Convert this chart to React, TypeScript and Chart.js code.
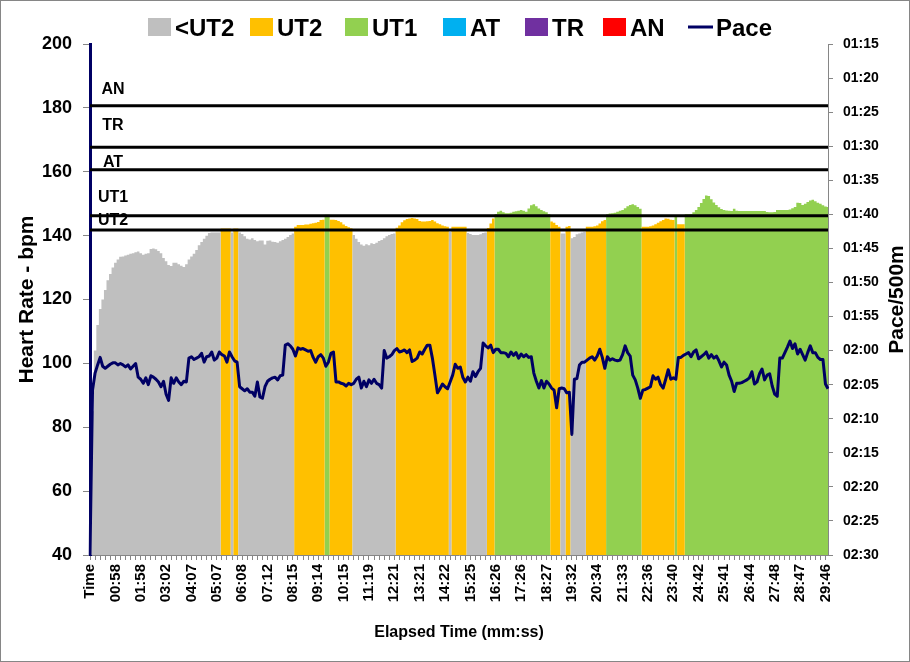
import React, { useEffect, useRef } from 'react';
import { Chart, registerables } from 'chart.js';

Chart.register(...registerables);

// ---------- DATA ----------
const TICK_LABELS = [
  'Time', '00:58', '01:58', '03:02', '04:07', '05:07', '06:08', '07:12', '08:15', '09:14',
  '10:15', '11:19', '12:21', '13:21', '14:22', '15:25', '16:26', '17:26', '18:27', '19:32',
  '20:34', '21:33', '22:36', '23:40', '24:42', '25:41', '26:44', '27:48', '28:47', '29:46',
];
const POINTS_PER_LABEL = 10;

// Heart rate (bpm) per sample
const HR = [
  60, 85, 104, 112, 117, 120, 123, 126, 128, 130, 131.5, 132.5, 133.4,
  133.5, 133.8, 134, 134.3, 134.5, 134.8, 135, 134.5, 134, 134.3, 134.5, 135.8, 136, 135.7, 135.2, 134.5,
  133, 132, 130.8, 130.5, 131.5, 131.5, 131, 130.6, 130.2, 131, 132.5, 133.5, 134.3, 135.5, 137, 138,
  139, 140, 140.8, 141, 141, 141, 141,
  142.2, 142.2, 142.2, 142.2,
  141,
  142.2, 142.2,
  141, 140.5, 139.8, 139, 138.8, 139.2, 138.6, 138.2, 138.5, 138.5, 137.2, 138.4, 138.5, 138.1, 138,
  137.8, 138.2, 138.6, 139, 139.6, 140.2, 140.7,
  142.8, 143.3, 143.3, 143.3, 143.5, 143.5, 143.7, 143.9, 144, 144.3, 144.9, 145,
  146.5, 146.5,
  145, 145, 144.9, 144.6, 144.2, 143.5, 143, 142.6, 142.3,
  140.2, 139, 138, 137.2, 136.8, 137.3, 137, 137.6, 137.4, 137.8, 138.3, 138.6, 139.2, 139.8, 140.2,
  140.5, 140.7,
  142.5, 143.2, 144.2, 144.8, 145.2, 145.4, 145.5, 145.4, 145.2, 144.6, 144.4, 144.4, 144.5, 144.6,
  144.9, 144.4, 143.9, 143.6, 143.2, 142.9, 142.8,
  141.2,
  142.8, 142.8, 142.8, 142.8, 142.8, 142.8,
  140.8, 140.5, 140.2, 140.2, 140.2, 140.4, 140.8, 141,
  142.4, 143.8, 145.4,
  146.8, 147.5, 147.8, 147.3, 147, 147, 147.2, 147.5, 147.6, 147.8, 148, 147.8, 147.5, 148.5, 149.5,
  149.8, 149.2, 148.5, 148, 147.6, 147.3, 146.8,
  144.4, 144, 143.3, 142.8,
  140.7, 140.7,
  142.8, 143,
  139.2, 139.6, 140.4, 140.7, 141, 141.2,
  142.8, 142.8, 142.8, 142.9, 143.2, 143.8, 144.5, 144.9,
  146.7, 146.9, 147, 147.2, 147.5, 147.8, 148, 148.6, 149.2, 149.6, 149.8, 149.5, 149, 148.4,
  142.8, 142.8, 142.8, 142.9, 143.2, 143.6, 144, 144.5, 144.9, 145.4, 145.3, 145, 144.9,
  146.4,
  143.6, 143.6, 143.6,
  146.7, 146.7, 146.8, 147.3, 148, 149, 150.2, 151.5, 152.6, 152.4, 151.4, 150.4, 149.6, 148.9, 148.3,
  148, 147.9, 147.8, 147.7, 148.4, 147.8,
  147.7, 147.7, 147.7, 147.7, 147.7, 147.7, 147.7, 147.7, 147.7, 147.7, 147.7,
  147.4, 147.3, 147.3, 147.4, 148, 148, 148, 148, 148, 148.2, 148.6, 149, 150.3, 150.2, 149.6, 150,
  150.5, 151, 151.2, 150.8, 150.3, 150, 149.5, 149.1, 149,
];

// Pace (seconds per 500m) per sample
const PACE = [
  150, 125.8, 123.3, 122.1, 121.0, 122.3, 122.6, 122.3, 122.0, 121.8,
  121.8, 122.1, 121.9, 122.1, 122.4, 122.1, 122.7, 122.3, 121.9, 123.9,
  124.2, 124.8, 124.0, 125.0, 123.7, 123.9, 124.2, 124.6, 125.3, 124.5,
  126.4, 127.3, 124.0, 124.8, 124.0, 124.6, 125.0, 124.5, 124.6, 121.1,
  120.9, 121.3, 121.1, 120.9, 120.4, 121.7, 120.9, 120.8, 120.2, 121.4,
  121.1, 120.2, 120.6, 120.8, 121.7, 120.2, 120.9, 121.5, 121.7, 125.3,
  125.6, 125.9, 125.6, 126.1, 126.1, 126.7, 124.6, 126.8, 127.0, 125.3,
  124.5, 124.2, 124.0, 123.9, 124.3, 123.7, 123.6, 119.2, 119.0, 119.3,
  119.8, 120.8, 119.6, 119.8, 119.7, 119.9, 120.1, 120.0, 121.0, 121.7,
  120.9, 120.6, 121.1, 122.3, 121.7, 120.4, 120.2, 124.6, 124.6, 124.8,
  124.9, 125.2, 124.8, 125.0, 124.8, 124.2, 123.9, 125.5, 124.5, 125.3,
  124.3, 124.8, 124.2, 124.8, 125.0, 125.5, 120.0, 121.1, 120.9, 120.6,
  120.0, 119.7, 120.2, 120.1, 119.9, 120.3, 119.9, 121.6, 121.4, 121.1,
  120.2, 120.5, 119.8, 119.2, 119.2, 121.1, 123.6, 126.2, 125.6, 124.9,
  125.3, 125.6, 124.6, 123.6, 122.0, 122.6, 122.4, 123.9, 124.6, 123.9,
  124.5, 123.1, 123.8, 123.1, 122.6, 118.9, 119.3, 119.6, 119.2, 120.3,
  119.8, 119.8, 120.3, 120.3, 120.4, 120.9, 120.2, 120.7, 120.3, 121.1,
  120.5, 120.9, 120.6, 121.0, 120.9, 123.3, 124.5, 125.5, 124.4, 125.5,
  124.5, 124.9, 125.5, 125.8, 128.4, 125.6, 125.5, 125.6, 126.2, 126.1,
  132.3, 124.2, 124.1, 122.1, 121.7, 121.7, 121.4, 121.1, 120.9, 121.4,
  120.8, 119.8, 121.0, 122.6, 120.9, 121.4, 121.2, 121.4, 121.5, 121.4,
  120.6, 119.3, 120.3, 120.8, 123.6, 124.3, 125.5, 127.0, 125.8, 125.7,
  125.5, 125.3, 123.7, 124.2, 123.9, 125.0, 125.5, 124.2, 122.8, 124.2,
  124.0, 124.2, 121.0, 121.0, 120.7, 120.5, 120.3, 120.9, 120.2, 119.9,
  121.2, 120.9, 120.6, 120.2, 121.1, 120.6, 121.1, 120.8, 121.5, 122.4,
  121.7, 122.1, 123.6, 124.5, 126.0, 124.8, 124.8, 124.7, 124.5, 124.3,
  124.0, 123.1, 124.9, 124.6, 123.4, 122.7, 124.3, 123.6, 123.4, 125.2,
  126.4, 126.7, 121.1, 121.1, 120.3, 119.5, 118.6, 119.7, 119.0, 120.5,
  119.8, 120.6, 121.4, 120.3, 119.3, 120.3, 120.3, 121.0, 121.3, 121.3,
  124.9, 125.6,
];

// Zone thresholds (bpm)
const THRESHOLD_NAMES = ['UT2', 'UT1', 'AT', 'TR', 'AN'];
const THRESHOLDS = [141.8, 146.2, 160.6, 167.7, 180.7];
const ZONE_NAMES = ['<UT2', 'UT2', 'UT1', 'AT', 'TR', 'AN'];

// ---------- STYLE / LAYOUT ----------
const ZONE_COLORS = ['#bfbfbf', '#ffc000', '#92d050', '#00b0f0', '#7030a0', '#ff0000'];
const PACE_COLOR = '#000064';
const AXIS_GRAY = '#868686';
const FONT = "'Liberation Sans', Arial, sans-serif";
const THRESHOLD_LABEL_DY = [-4.5, -14, -3, -17, -11.6]; // baseline offset from line, px
const LEGEND_ITEM_X = [148, 250, 345, 443, 525, 603, 688]; // legend item left edges, px

function fmtPace(v: number) {
  const m = Math.floor(v / 60);
  const s = Math.round(v - m * 60);
  return `${String(m).padStart(2, '0')}:${String(s).padStart(2, '0')}`;
}

const overlayPlugin = {
  id: 'overlay',
  beforeDatasetsDraw(chart: any) {
    const ctx = chart.ctx;
    const { left } = chart.chartArea;
    const y = chart.scales.y;
    ctx.save();
    ctx.font = `bold 16px ${FONT}`;
    ctx.fillStyle = '#000';
    ctx.textAlign = 'center';
    ctx.textBaseline = 'alphabetic';
    THRESHOLD_NAMES.forEach((n, k) => {
      ctx.fillText(n, left + 23, y.getPixelForValue(THRESHOLDS[k]) + THRESHOLD_LABEL_DY[k]);
    });
    ctx.restore();
  },
  afterDraw(chart: any) {
    const ctx = chart.ctx;
    const { top, bottom } = chart.chartArea;
    ctx.save();
    // right axis title (reads bottom to top)
    ctx.save();
    ctx.translate(897, (top + bottom) / 2);
    ctx.rotate(-Math.PI / 2);
    ctx.font = `bold 21px ${FONT}`;
    ctx.fillStyle = '#000';
    ctx.textAlign = 'center';
    ctx.textBaseline = 'middle';
    ctx.fillText('Pace/500m', 0, 0);
    ctx.restore();

    // legend
    ctx.font = `bold 24px ${FONT}`;
    ctx.textAlign = 'left';
    ctx.textBaseline = 'alphabetic';
    const items = [
      ...ZONE_NAMES.map((n, k) => ({ text: n, color: ZONE_COLORS[k], line: false })),
      { text: 'Pace', color: PACE_COLOR, line: true },
    ];
    const boxW = 23, boxH = 18, lineW = 25, cy = 27;
    items.forEach((it, k) => {
      const x = LEGEND_ITEM_X[k];
      ctx.fillStyle = it.color;
      if (it.line) {
        ctx.fillRect(x, cy - 1.5, lineW, 3);
        ctx.fillStyle = '#000';
        ctx.fillText(it.text, x + lineW + 3, cy + 9);
      } else {
        ctx.fillRect(x, cy - boxH / 2, boxW, boxH);
        ctx.fillStyle = '#000';
        ctx.fillText(it.text, x + boxW + 4, cy + 9);
      }
    });

    // outer frame
    ctx.strokeStyle = AXIS_GRAY;
    ctx.lineWidth = 1;
    ctx.strokeRect(0.5, 0.5, chart.width - 1, chart.height - 1);
    ctx.restore();
  },
};

export default function App() {
  const ref = useRef<HTMLCanvasElement>(null);
  useEffect(() => {
    const labels = HR.map((_, i) =>
      i % POINTS_PER_LABEL === 0 && TICK_LABELS[i / POINTS_PER_LABEL] !== undefined
        ? TICK_LABELS[i / POINTS_PER_LABEL]
        : ''
    );
    const bounds = [-Infinity, ...THRESHOLDS, Infinity];
    const zoneSets = ZONE_NAMES.map((name, k) => ({
      type: 'line',
      label: name,
      yAxisID: 'y',
      data: HR.map((v) => (v >= bounds[k] && v < bounds[k + 1] ? v : 0)),
      backgroundColor: ZONE_COLORS[k],
      borderColor: ZONE_COLORS[k],
      borderWidth: 0,
      pointRadius: 0,
      fill: 'origin',
      stepped: 'middle',
      order: 3,
    }));
    const lineSets = THRESHOLDS.map((t, k) => ({
      type: 'line',
      label: THRESHOLD_NAMES[k] + ' threshold',
      yAxisID: 'y',
      data: HR.map(() => t),
      borderColor: '#000000',
      borderWidth: 3,
      pointRadius: 0,
      fill: false,
      order: 2,
    }));
    const paceSet = {
      type: 'line',
      label: 'Pace',
      yAxisID: 'y1',
      data: PACE,
      borderColor: PACE_COLOR,
      backgroundColor: PACE_COLOR,
      borderWidth: 3,
      pointRadius: 0,
      fill: false,
      borderJoinStyle: 'round',
      order: 1,
    };

    const chart = new Chart(ref.current as HTMLCanvasElement, {
      type: 'line',
      data: { labels, datasets: [paceSet, ...lineSets, ...zoneSets] as any },
      options: {
        responsive: false,
        animation: false,
        devicePixelRatio: 1,
        layout: { padding: { top: 44, left: 0, right: 0, bottom: 0 } },
        plugins: { legend: { display: false }, tooltip: { enabled: false } },
        scales: {
          x: {
            type: 'category',
            afterFit: (s: any) => { s.height = 107; },
            grid: {
              drawOnChartArea: false,
              drawTicks: true,
              tickLength: 5,
              color: (c: any) => (c.index % 2 === 0 ? AXIS_GRAY : 'rgba(0,0,0,0)'),
            },
            border: { color: AXIS_GRAY, width: 1 },
            ticks: {
              autoSkip: false,
              maxRotation: 90,
              minRotation: 90,
              padding: 4,
              color: '#000',
              font: { family: FONT, size: 15, weight: 'bold' },
            },
            title: {
              display: true,
              text: 'Elapsed Time (mm:ss)',
              color: '#000',
              font: { family: FONT, size: 16, weight: 'bold' },
              padding: { top: 0, bottom: 20 },
            },
          },
          y: {
            position: 'left',
            min: 40,
            max: 200,
            afterFit: (s: any) => { s.width = 90; },
            grid: { drawOnChartArea: false, drawTicks: true, tickLength: 7, color: AXIS_GRAY },
            border: { color: PACE_COLOR, width: 3 },
            ticks: {
              stepSize: 20,
              padding: 11,
              color: '#000',
              font: { family: FONT, size: 18, weight: 'bold' },
            },
            title: {
              display: true,
              text: 'Heart Rate - bpm',
              color: '#000',
              font: { family: FONT, size: 21, weight: 'bold' },
              padding: { top: 15, bottom: 0 },
            },
          },
          y1: {
            position: 'right',
            min: 75,
            max: 150,
            reverse: true,
            afterFit: (s: any) => { s.width = 82; },
            grid: { drawOnChartArea: false, drawTicks: true, tickLength: 5, color: AXIS_GRAY },
            border: { color: AXIS_GRAY, width: 1 },
            ticks: {
              stepSize: 5,
              padding: 10,
              color: '#000',
              font: { family: FONT, size: 14, weight: 'bold' },
              callback: (v: any) => fmtPace(Number(v)),
            },
          },
        },
      },
      plugins: [overlayPlugin],
    } as any);
    return () => chart.destroy();
  }, []);

  return (
    <div style={{ position: 'absolute', left: 0, top: 0, width: 910, height: 662, background: '#fff' }}>
      <canvas ref={ref} width={910} height={662} style={{ display: 'block' }} />
    </div>
  );
}
